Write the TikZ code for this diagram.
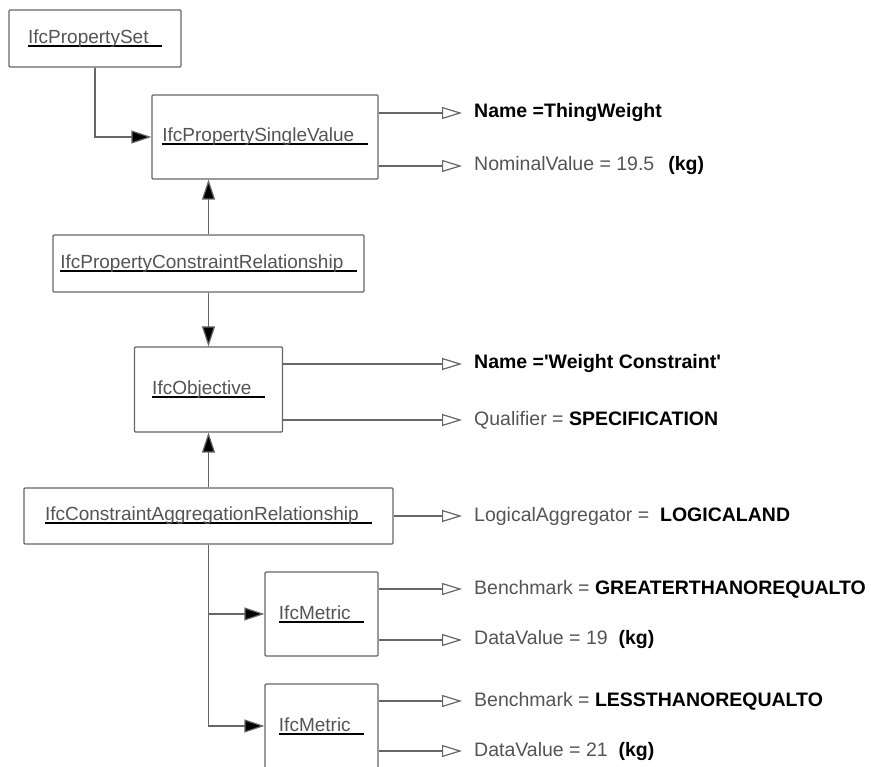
\documentclass[tikz,border=0pt]{standalone}
\usepackage{fontspec}
\setmainfont{Liberation Sans}
\usetikzlibrary{arrows.meta}

\definecolor{linegray}{gray}{0.4}
\definecolor{textgray}{gray}{0.33}
\newcommand{\clsname}[1]{\setbox0=\hbox{#1\hspace{0.7em}}\rlap{\color{black}\rule[-3.5pt]{\wd0}{2pt}}\box0}
\newcommand{\attval}[1]{{\bfseries\color{black}#1}}

\begin{document}
\begin{tikzpicture}[x=1pt, y=-1pt, font=\fontsize{19}{23}\selectfont,
    cls/.style={draw=linegray, line width=1.2pt, rounded corners=1pt, inner sep=0pt, text=textgray},
    attr/.style={anchor=west, inner xsep=12pt, inner ysep=0pt, text=textgray, font=\fontsize{19.5}{23}\selectfont},
    flow/.style={draw=linegray, line width=1.2pt, -{Triangle[length=20pt,width=13pt,fill=black]}},
    link/.style={draw=linegray, line width=1.2pt, -{Triangle[open,length=20pt,width=12pt]}}]
    \useasboundingbox (0,0) rectangle (871,767);
    \clip (0,0) rectangle (871,767);

    \node[cls, minimum width=172pt, minimum height=57pt] (pset) at (95,38.5) {\clsname{IfcPropertySet}};
    \node[cls, minimum width=226pt, minimum height=84pt] (psv) at (265,137) {\clsname{IfcPropertySingleValue}};
    \node[cls, minimum width=311pt, minimum height=57pt] (pcr) at (208.5,263.5) {\clsname{IfcPropertyConstraintRelationship}};
    \node[cls, minimum width=148pt, minimum height=85pt] (obj) at (208.5,389.5) {\clsname{IfcObjective}};
    \node[cls, minimum width=369pt, minimum height=56pt] (car) at (208.5,516) {\clsname{IfcConstraintAggregationRelationship}};
    \node[cls, minimum width=113pt, minimum height=84pt] (met1) at (321.5,614) {\clsname{IfcMetric}};
    \node[cls, minimum width=113pt, minimum height=84pt] (met2) at (321.5,726) {\clsname{IfcMetric}};

    \draw[flow] (pset.south) |- (psv.west);
    \draw[flow] (pcr.north) -- (pcr.north |- psv.south);
    \draw[flow] (pcr.south) -- (obj.north);
    \draw[flow] (car.north) -- (obj.south);
    \draw[flow] (car.south) |- (met1.west);
    \draw[flow] (car.south) |- (met2.west);

    \node[attr] (psvname) at (462,113) {\attval{Name =ThingWeight}};
    \node[attr] (psvval) at (462,166) {NominalValue = 19.5\hspace{14pt}\attval{(kg)}};
    \node[attr] (objname) at (462,364) {\attval{Name =\textquotesingle Weight Constraint\textquotesingle}};
    \node[attr] (objqual) at (462,420) {Qualifier = \attval{SPECIFICATION}};
    \node[attr] (carlog) at (462,516) {LogicalAggregator = \ \attval{LOGICALAND}};
    \node[attr] (met1bench) at (462,589) {Benchmark = \attval{GREATERTHANOREQUALTO}};
    \node[attr] (met1val) at (462,640) {DataValue = 19 \ \attval{(kg)}};
    \node[attr] (met2bench) at (462,701) {Benchmark = \attval{LESSTHANOREQUALTO}};
    \node[attr] (met2val) at (462,751) {DataValue = 21 \ \attval{(kg)}};

    \draw[link] (psv.east |- psvname.west) -- (psvname.west);
    \draw[link] (psv.east |- psvval.west) -- (psvval.west);
    \draw[link] (obj.east |- objname.west) -- (objname.west);
    \draw[link] (obj.east |- objqual.west) -- (objqual.west);
    \draw[link] (car.east |- carlog.west) -- (carlog.west);
    \draw[link] (met1.east |- met1bench.west) -- (met1bench.west);
    \draw[link] (met1.east |- met1val.west) -- (met1val.west);
    \draw[link] (met2.east |- met2bench.west) -- (met2bench.west);
    \draw[link] (met2.east |- met2val.west) -- (met2val.west);
\end{tikzpicture}
\end{document}
